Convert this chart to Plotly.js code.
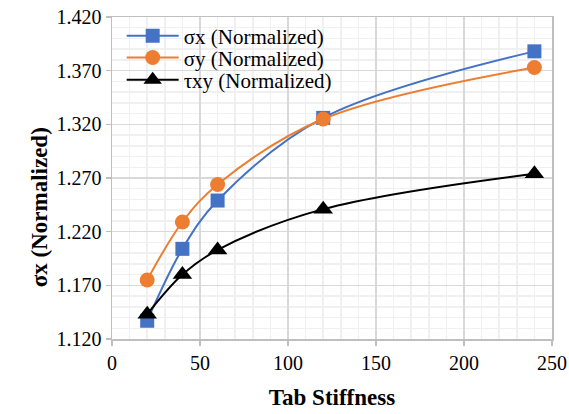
<!DOCTYPE html>
<html><head><meta charset="utf-8">
<script src="https://cdn.plot.ly/plotly-3.0.1.min.js"></script>
<style>html,body{margin:0;padding:0;background:#fff;}#c{width:569px;height:414px;}</style>
</head><body><div id="c"></div>
<script>
const stiffness = [20, 40, 60, 120, 240];
const sigmaX = [1.137, 1.204, 1.249, 1.326, 1.388];
const sigmaY = [1.175, 1.229, 1.264, 1.325, 1.373];
const tauXY = [1.143, 1.180, 1.203, 1.241, 1.274];
const names = ['σx (Normalized)', 'σy (Normalized)', 'τxy (Normalized)'];
const xTitle = 'Tab Stiffness';
const yTitle = 'σx (Normalized)';

const mk = (y, name, color, symbol, size, leg) => ({
  x: stiffness, y: y, name: name, type: 'scatter', mode: 'lines+markers',
  legend: leg,
  line: {color: color, width: 2, shape: 'spline', smoothing: 1},
  marker: {color: color, symbol: symbol, size: size}
});
const data = [
  mk(sigmaX, names[0], '#4472C4', 'square', 14, 'legend'),
  mk(sigmaY, names[1], '#ED7D31', 'circle', 15, 'legend2'),
  mk(tauXY, names[2], '#000000', 'triangle-up', 17, 'legend3')
];
const font = {family: 'Liberation Serif, Times New Roman, serif', color: '#000'};
const legBase = (y) => ({x: 0.022, y: y, xanchor: 'left', yanchor: 'middle', bgcolor: 'rgba(255,255,255,0)',
  font: Object.assign({size: 21}, font), itemwidth: 52});
const layout = {
  width: 569, height: 414,
  margin: {l: 112, r: 17, t: 17, b: 75},
  paper_bgcolor: '#fff', plot_bgcolor: '#fff',
  font: Object.assign({size: 20}, font),
  showlegend: true,
  legend: legBase(0.941),
  legend2: legBase(0.873),
  legend3: legBase(0.804),
  xaxis: {
    range: [0, 250], dtick: 50, tick0: 0,
    showgrid: true, gridcolor: '#d9d9d9', gridwidth: 1.5,
    minor: {dtick: 10, showgrid: true, gridcolor: '#f0f0f0', gridwidth: 1.5},
    showline: true, linecolor: '#bfbfbf', linewidth: 1.5, mirror: true,
    ticks: 'outside', ticklen: 5, tickcolor: '#bfbfbf', tickwidth: 1.5,
    zeroline: false,
    tickfont: Object.assign({size: 20}, font),
    title: {text: '<b>' + xTitle + '</b>', font: Object.assign({size: 23}, font), standoff: 16}
  },
  yaxis: {
    range: [1.12, 1.42], dtick: 0.05, tick0: 1.12, tickformat: '.3f',
    showgrid: true, gridcolor: '#d9d9d9', gridwidth: 1.5,
    minor: {dtick: 0.01, showgrid: true, gridcolor: '#f0f0f0', gridwidth: 1.5},
    showline: true, linecolor: '#bfbfbf', linewidth: 1.5, mirror: true,
    ticks: 'outside', ticklen: 5, tickcolor: '#bfbfbf', tickwidth: 1.5,
    zeroline: false,
    tickfont: Object.assign({size: 20}, font)
  },
  annotations: [{
    text: '<b>' + yTitle + '</b>', textangle: -90, showarrow: false,
    xref: 'paper', yref: 'paper', x: -0.163, y: 0.41, xanchor: 'center', yanchor: 'middle',
    font: Object.assign({size: 23}, font)
  }]
};
Plotly.newPlot('c', data, layout, {displayModeBar: false, staticPlot: true});
</script></body></html>
